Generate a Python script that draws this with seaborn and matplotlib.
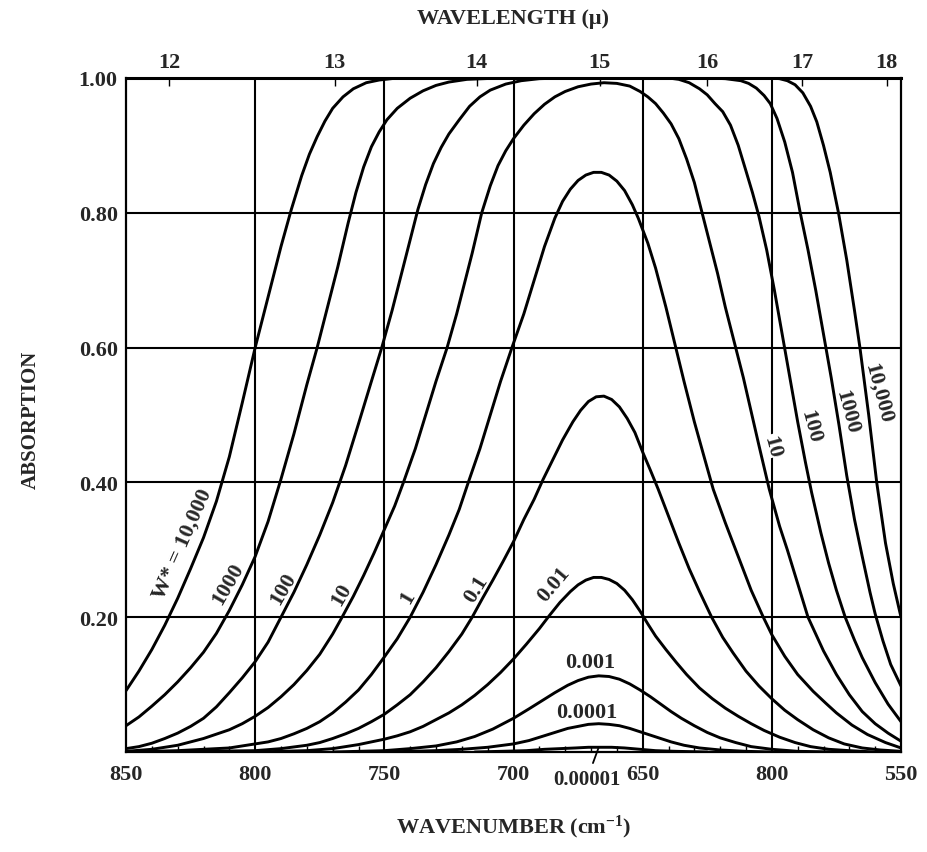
import numpy as np
import pandas as pd
import seaborn as sns
import matplotlib.pyplot as plt

# absorption curves, one per W* value
w_labels = ['10,000', '1000', '100', '10', '1', '0.1', '0.01', '0.001', '0.0001', '0.00001']

wn_10000 = [850, 845, 840, 835, 830, 825, 820, 815, 810, 805, 800, 795, 790, 786, 782, 779, 776, 773, 770, 766, 762, 757, 752, 745,
            600, 597, 594, 591, 588, 585, 582.6, 580, 577.4, 574.2, 571, 568, 565.9, 562.5, 559.4, 556, 553, 550]
ab_10000 = [0.091, 0.12, 0.152, 0.188, 0.228, 0.272, 0.318, 0.372, 0.438, 0.518, 0.6, 0.675, 0.75, 0.805, 0.855, 0.887, 0.913, 0.936, 0.955, 0.972, 0.984, 0.993, 0.997, 1.0,
            1.0, 0.999, 0.996, 0.99, 0.978, 0.958, 0.935, 0.9, 0.86, 0.8, 0.73, 0.655, 0.6, 0.5, 0.4, 0.31, 0.25, 0.2]

wn_1000 = [850, 845, 840, 835, 830, 825, 820, 815, 810, 805, 800, 795, 790, 785, 780, 776, 772, 768, 764, 761, 758, 755, 752, 749,
           745, 740, 735, 730, 725, 718, 705,
           625, 618, 612, 609, 606, 603, 600.6, 598, 595, 592, 589, 586, 583, 580, 577, 574, 571, 568, 565, 562, 560, 557, 554, 550]
ab_1000 = [0.039, 0.052, 0.068, 0.085, 0.104, 0.125, 0.148, 0.176, 0.21, 0.248, 0.29, 0.342, 0.405, 0.472, 0.545, 0.6, 0.66, 0.72, 0.785, 0.83, 0.868, 0.898, 0.92, 0.938,
           0.955, 0.97, 0.981, 0.989, 0.994, 0.998, 1.0,
           1.0, 0.999, 0.996, 0.992, 0.985, 0.974, 0.962, 0.94, 0.905, 0.86, 0.8, 0.745, 0.685, 0.62, 0.555, 0.485, 0.41, 0.345, 0.29, 0.237, 0.205, 0.165, 0.13, 0.098]

wn_100 = [850, 845, 840, 835, 830, 825, 820, 815, 810, 805, 800, 795, 790, 785, 780, 775, 770, 765, 760, 755, 751, 747, 743, 740,
          737, 734, 731, 728, 725, 721, 717, 713, 709, 703, 697, 690, 680,
          640, 636, 632, 628, 625, 622, 619, 616, 613, 610, 607.5, 605, 602, 599, 596, 593, 590, 587, 584.6, 581, 578, 575, 571.6,
          568, 565, 560, 555, 550]
ab_100 = [0.005, 0.008, 0.013, 0.02, 0.028, 0.038, 0.05, 0.067, 0.088, 0.11, 0.134, 0.163, 0.2, 0.237, 0.278, 0.322, 0.37, 0.425, 0.487, 0.55, 0.6, 0.655, 0.715, 0.76,
          0.805, 0.842, 0.873, 0.897, 0.917, 0.938, 0.958, 0.972, 0.982, 0.991, 0.996, 0.999, 1.0,
          1.0, 0.998, 0.993, 0.984, 0.975, 0.962, 0.95, 0.93, 0.9, 0.862, 0.83, 0.795, 0.745, 0.685, 0.62, 0.555, 0.49, 0.43, 0.385, 0.325, 0.28, 0.24, 0.2,
          0.166, 0.14, 0.103, 0.071, 0.045]

wn_10 = [850, 840, 830, 820, 810, 805, 800, 795, 790, 785, 780, 775, 770, 766.5, 762, 758, 754, 750, 746, 742.6, 738, 734, 730, 725.7,
         722, 719, 716, 712.3, 709, 706, 703, 700, 696, 692, 688, 684, 680, 675, 670, 665, 660, 655, 651, 648, 645, 642, 639, 636,
         633, 630, 627, 624, 621, 618, 615, 611, 608, 605, 601, 597, 594, 590, 586, 583, 580, 575, 570, 565, 560, 555, 550]
ab_10 = [0.001, 0.004, 0.01, 0.02, 0.033, 0.042, 0.053, 0.066, 0.082, 0.1, 0.121, 0.145, 0.175, 0.199, 0.231, 0.262, 0.295, 0.33, 0.365, 0.4, 0.45, 0.5, 0.55, 0.6,
         0.65, 0.695, 0.74, 0.8, 0.84, 0.87, 0.892, 0.91, 0.93, 0.947, 0.961, 0.972, 0.98, 0.987, 0.991, 0.993, 0.992, 0.988, 0.98, 0.972, 0.962, 0.948, 0.932, 0.91,
         0.88, 0.845, 0.8, 0.755, 0.71, 0.66, 0.615, 0.555, 0.505, 0.455, 0.39, 0.335, 0.3, 0.25, 0.2, 0.175, 0.15, 0.115, 0.085, 0.06, 0.042, 0.028, 0.016]

wn_1 = [850, 840, 830, 820, 810, 800, 795, 790, 785, 780, 775, 770, 765, 760, 755, 750, 745, 740, 735, 730, 725, 721, 717.5, 713,
        709, 705, 700.6, 696, 692, 688, 684, 681, 678, 675, 672, 669, 666, 663, 660, 657, 654, 651.7, 648, 645, 641, 637.5, 634,
        630, 626, 622.7, 618, 613, 608, 603.3, 600, 595, 590, 584, 579, 575, 569, 563, 556, 550]
ab_1 = [0.0, 0.001, 0.002, 0.004, 0.006, 0.012, 0.015, 0.02, 0.027, 0.035, 0.045, 0.058, 0.074, 0.092, 0.115, 0.141, 0.168, 0.2, 0.237, 0.278, 0.322, 0.36, 0.4, 0.45,
        0.5, 0.55, 0.6, 0.65, 0.7, 0.75, 0.792, 0.817, 0.835, 0.848, 0.856, 0.86, 0.86, 0.856, 0.847, 0.833, 0.812, 0.792, 0.755, 0.718, 0.66, 0.605, 0.55,
        0.49, 0.435, 0.39, 0.34, 0.29, 0.24, 0.2, 0.174, 0.142, 0.115, 0.09, 0.072, 0.058, 0.04, 0.026, 0.014, 0.006]

wn_01 = [850, 820, 800, 790, 780, 775, 770, 765, 760, 755, 750, 745, 740, 735, 730, 725, 720, 716, 712, 708, 704, 700, 696, 692,
         688.6, 685, 681, 677, 674, 671, 668, 665, 662, 659, 656, 653, 650, 647, 644, 640, 636, 632, 628, 623.3, 619, 615, 610,
         605, 600, 595, 590, 584, 578, 572, 565, 558, 550]
ab_01 = [0.0, 0.001, 0.002, 0.005, 0.01, 0.014, 0.02, 0.027, 0.035, 0.045, 0.056, 0.07, 0.085, 0.104, 0.125, 0.149, 0.175, 0.2, 0.228, 0.255, 0.283, 0.312, 0.345, 0.375,
         0.404, 0.432, 0.463, 0.49, 0.507, 0.52, 0.527, 0.528, 0.523, 0.512, 0.495, 0.474, 0.445, 0.418, 0.39, 0.35, 0.31, 0.272, 0.238, 0.2, 0.17, 0.147, 0.12,
         0.098, 0.079, 0.062, 0.048, 0.033, 0.021, 0.012, 0.006, 0.003, 0.001]

wn_001 = [800, 780, 770, 760, 750, 745, 740, 735, 730, 725, 720, 715, 710, 705, 700, 695, 690, 686, 682, 678, 675, 672, 669, 666,
          663, 660, 657, 654, 651, 648, 645, 641, 637, 633, 628, 623, 618, 613, 608, 603, 597, 591, 585, 578, 570, 560]
ab_001 = [0.0, 0.002, 0.005, 0.011, 0.019, 0.024, 0.03, 0.038, 0.048, 0.058, 0.07, 0.084, 0.1, 0.118, 0.138, 0.16, 0.183, 0.203, 0.222, 0.238, 0.248, 0.255, 0.259, 0.259,
          0.256, 0.25, 0.24, 0.226, 0.209, 0.19, 0.172, 0.152, 0.133, 0.115, 0.095, 0.079, 0.065, 0.053, 0.042, 0.032, 0.022, 0.014, 0.008, 0.004, 0.002, 0.0]

wn_0001 = [770, 760, 750, 740, 730, 722, 715, 708, 700, 694, 689, 684, 679, 675, 671, 667, 663, 659, 655, 651, 647, 643, 639, 635,
           630, 625, 620, 614, 608, 600, 590, 575]
ab_0001 = [0.0, 0.001, 0.002, 0.005, 0.009, 0.015, 0.023, 0.034, 0.05, 0.064, 0.076, 0.088, 0.099, 0.106, 0.111, 0.113, 0.112, 0.108, 0.101, 0.092, 0.082, 0.071, 0.06, 0.05,
           0.039, 0.029, 0.021, 0.014, 0.008, 0.004, 0.001, 0.0]

wn_00001 = [750, 740, 730, 720, 710, 700, 694, 689, 684, 679, 675, 671, 667, 663, 659, 655, 651, 647, 643, 639, 634, 628, 620, 610, 600]
ab_00001 = [0.0, 0.001, 0.002, 0.004, 0.007, 0.012, 0.017, 0.023, 0.029, 0.035, 0.038, 0.041, 0.042, 0.041, 0.039, 0.035, 0.03, 0.025, 0.02, 0.015, 0.01, 0.006, 0.003, 0.001, 0.0]

wn_000001 = [715, 705, 695, 688, 682, 676, 671, 667, 662, 657, 651, 645, 637, 625]
ab_000001 = [0.0, 0.001, 0.002, 0.004, 0.005, 0.006, 0.007, 0.007, 0.007, 0.006, 0.004, 0.002, 0.001, 0.0]

curve_wn = [wn_10000, wn_1000, wn_100, wn_10, wn_1, wn_01, wn_001, wn_0001, wn_00001, wn_000001]
curve_ab = [ab_10000, ab_1000, ab_100, ab_10, ab_1, ab_01, ab_001, ab_0001, ab_00001, ab_000001]

x_ticks = [850, 800, 750, 700, 650, 600, 550]
x_tick_labels = ['850', '800', '750', '700', '650', '800', '550']
y_ticks = [0.2, 0.4, 0.6, 0.8, 1.0]
y_tick_labels = ['0.20', '0.40', '0.60', '0.80', '1.00']
wavelength_ticks = [12, 13, 14, 15, 16, 17, 18]

frames = []
for lab, xs, ys in zip(w_labels, curve_wn, curve_ab):
    frames.append(pd.DataFrame({'wavenumber': xs, 'absorption': ys, 'W': lab}))
df = pd.concat(frames, ignore_index=True)

sns.set_style("ticks")
plt.rcParams['font.family'] = ['Liberation Serif', 'DejaVu Serif']
plt.rcParams['font.weight'] = 'bold'
plt.rcParams['mathtext.fontset'] = 'custom'
plt.rcParams['mathtext.rm'] = 'Liberation Serif:bold'
plt.rcParams['mathtext.bf'] = 'Liberation Serif:bold'
plt.rcParams['mathtext.it'] = 'Liberation Serif:bold:italic'

fig = plt.figure(figsize=(9.27, 8.53), dpi=100)
ax = fig.add_axes([126 / 927, 1 - 753 / 853, 775 / 927, 674 / 853])

sns.lineplot(data=df, x='wavenumber', y='absorption', units='W', estimator=None,
             color='black', linewidth=2.1, ax=ax, legend=False, zorder=2)

ax.set_xlim(850, 550)
ax.set_ylim(0, 1.0)
for x in x_ticks[1:-1]:
    ax.axvline(x, color='black', lw=1.5, zorder=1)
for y in y_ticks[:-1]:
    ax.axhline(y, color='black', lw=1.5, zorder=1)

ax.set_xticks(x_ticks)
ax.set_xticklabels(x_tick_labels)
ax.set_yticks(y_ticks)
ax.set_yticklabels(y_tick_labels)
ax.set_xticks(np.arange(550, 851, 10), minor=True)
ax.tick_params(axis='x', which='major', length=0, pad=9, labelsize=16)
ax.tick_params(axis='x', which='minor', direction='in', length=4, width=1, color='black')
ax.tick_params(axis='y', which='major', length=0, pad=6, labelsize=16)
for sp in ax.spines.values():
    sp.set_color('black')
    sp.set_linewidth(1.6)
ax.spines['top'].set_linewidth(2.2)

ax.set_xlabel('WAVENUMBER (cm$^{\\mathbf{-1}}$)', fontsize=16, fontweight='bold')
ax.xaxis.set_label_coords(0.5, -0.09)
ax.set_ylabel('ABSORPTION', fontsize=15, fontweight='bold')
ax.yaxis.set_label_coords(-0.11, 0.494)

secax = ax.secondary_xaxis('top', functions=(lambda v: 10000 / v, lambda v: 10000 / v))
secax.set_xticks(wavelength_ticks)
secax.set_xticklabels([str(t) for t in wavelength_ticks])
secax.tick_params(direction='in', length=6, width=1, pad=4, labelsize=16, color='black')
fig.text(513 / 927, 1 - 19 / 853, 'WAVELENGTH (μ)', ha='center', va='center', fontsize=16, fontweight='bold')

lab_box = dict(facecolor='white', edgecolor='none', pad=0.3)
left_labels = [('W* = 10,000', 828.3, 0.31, 66), ('1000', 810.5, 0.25, 60), ('100', 789.2, 0.243, 60),
               ('10', 766.4, 0.234, 60), ('1', 740.8, 0.231, 60), ('0.1', 714.5, 0.242, 58),
               ('0.01', 684.3, 0.249, 50)]
for txt, xv, yv, rot in left_labels:
    ax.text(xv, yv, txt, rotation=rot, ha='center', va='center', fontsize=16,
            fontweight='bold', bbox=lab_box, zorder=1.5)

right_labels = [('10', 600, 0.454), ('100', 585.2, 0.484), ('1000', 571, 0.506), ('10,000', 558.9, 0.534)]
for txt, xv, yv in right_labels:
    ax.text(xv, yv, txt, rotation=-75, ha='center', va='center', fontsize=16,
            fontweight='bold', bbox=lab_box, zorder=1.5)

ax.text(670.4, 0.134, '0.001', ha='center', va='center', fontsize=16, fontweight='bold')
ax.text(671.5, 0.059, '0.0001', ha='center', va='center', fontsize=16, fontweight='bold')
ax.annotate('0.00001', xy=(667, 0.007), xytext=(671.5, -0.04), ha='center', va='center',
            fontsize=15, fontweight='bold', annotation_clip=False,
            arrowprops=dict(arrowstyle='-', color='black', lw=1.3, shrinkA=2, shrinkB=0))

plt.savefig('out.png', dpi=100)
